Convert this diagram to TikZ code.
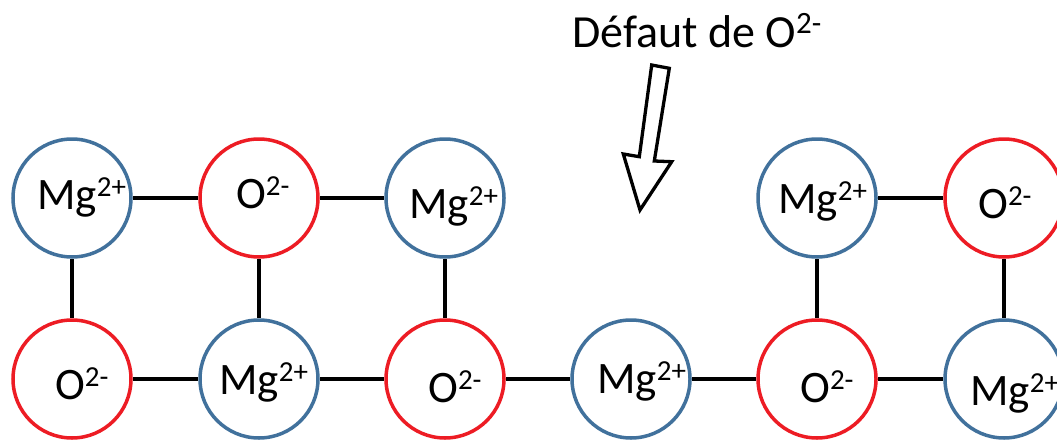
\documentclass[tikz,border=0pt]{standalone}
\usepackage{fontspec}
\setmainfont{Carlito}
\definecolor{mgblue}{RGB}{65,113,156}
\definecolor{ored}{RGB}{237,28,36}
\newcommand\chg[1]{\raisebox{13pt}{\fontsize{29}{29}\selectfont #1}}
\tikzset{
  ion/.style={circle,minimum size=118pt,inner sep=0pt,line width=3.5pt,fill=white},
  mgion/.style={ion,draw=mgblue},
  oion/.style={ion,draw=ored},
  lbl/.style={anchor=base west,inner sep=0pt,font=\fontsize{45}{45}\selectfont},
  bond/.style={line width=4.2pt,black},
}
\begin{document}
\begin{tikzpicture}[x=1pt,y=-1pt]
\useasboundingbox (0,0) rectangle (1057,439);
% top row
\node[mgion] (t1) at (72,198) {};
\node[oion]  (t2) at (259,198) {};
\node[mgion] (t3) at (445,198) {};
\node[mgion] (t5) at (817,198) {};
\node[oion]  (t6) at (1004,198) {};
% bottom row
\node[oion]  (b1) at (72,379) {};
\node[mgion] (b2) at (259,379) {};
\node[oion]  (b3) at (445,379) {};
\node[mgion] (b4) at (631,379) {};
\node[oion]  (b5) at (817,379) {};
\node[mgion] (b6) at (1004,379) {};
% bonds
\draw[bond] (t1) -- (t2);
\draw[bond] (t2) -- (t3);
\draw[bond] (t5) -- (t6);
\draw[bond] (b1) -- (b2);
\draw[bond] (b2) -- (b3);
\draw[bond] (b3) -- (b4);
\draw[bond] (b4) -- (b5);
\draw[bond] (b5) -- (b6);
\draw[bond] (t1) -- (b1);
\draw[bond] (t2) -- (b2);
\draw[bond] (t3) -- (b3);
\draw[bond] (t5) -- (b5);
\draw[bond] (t6) -- (b6);
% labels
\node[lbl] (lt1) at (37,209.5) {Mg\chg{2+}};
\node[lbl] (lt2) at (236,208.5) {O\chg{2-}};
\node[lbl] (lt3) at (409,218.5) {Mg\chg{2+}};
\node[lbl] (lt5) at (778,213) {Mg\chg{2+}};
\node[lbl] (lt6) at (978,218.5) {O\chg{2-}};
\node[lbl] (lb1) at (55,399) {O\chg{2-}};
\node[lbl] (lb2) at (219,394) {Mg\chg{2+}};
\node[lbl] (lb3) at (428,402) {O\chg{2-}};
\node[lbl] (lb4) at (597,393) {Mg\chg{2+}};
\node[lbl] (lb5) at (800,402) {O\chg{2-}};
\node[lbl] (lb6) at (970,405) {Mg\chg{2+}};
% defect label and arrow
\node[anchor=base west,inner sep=0pt,font=\fontsize{46}{46}\selectfont] (title) at (572,47) {Défaut de O\raisebox{14pt}{\fontsize{31}{31}\selectfont 2-}};
\draw[line width=3.3pt,fill=white,line join=miter] (651.7,65) -- (669.3,68.3) -- (654.3,161) -- (671.7,161.7) -- (640,210) -- (623.3,154) -- (639.3,156.7) -- cycle;
\end{tikzpicture}
\end{document}
